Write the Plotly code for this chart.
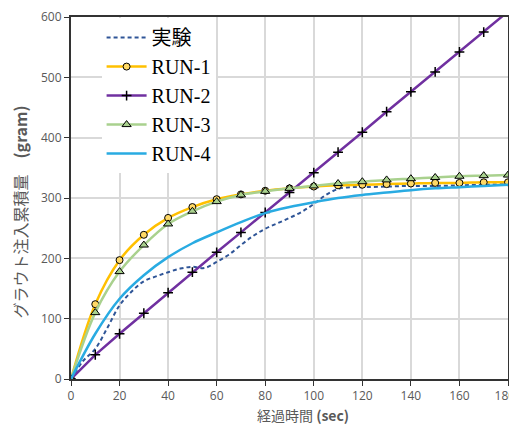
import plotly.graph_objects as go

# ---- data ----
t_exp = [0, 5, 10, 15, 20, 25, 30, 35, 40, 45, 50, 55, 60, 65, 70, 75, 80, 85, 90, 95,
         100, 105, 110, 115, 120, 130, 140, 150, 160, 170, 180]
y_exp = [0, 30, 50, 85, 122, 145, 162, 170, 177, 183, 186, 184, 194, 206, 222, 237, 249,
         258, 267, 277, 290, 305, 315, 318, 318, 319, 320, 320, 321, 322, 323]

t_run = [0, 10, 20, 30, 40, 50, 60, 70, 80, 90, 100, 110, 120, 130, 140, 150, 160, 170, 180]
y_run1 = [0, 124, 197, 239, 267, 285, 298, 306, 312, 316, 319, 321, 322, 323, 324, 325, 325, 326, 326]
y_run2 = [0, 40, 75, 109, 143, 177, 210, 243, 276, 309, 342, 376, 409, 443, 476, 509, 542, 575, 609]
y_run3 = [0, 110, 178, 222, 257, 278, 294, 305, 311, 316, 320, 324, 327, 330, 332, 334, 336, 337, 338]
y_run4 = [0, 75, 133, 172, 202, 225, 243, 260, 275, 285, 293, 300, 305, 309, 313, 316, 318, 320, 322]

x_ticks = [0, 20, 40, 60, 80, 100, 120, 140, 160, 180]
x_tick_text = ["0", "20", "40", "60", "80", "100", "120", "140", "160", "180\u00a0\u00a0"]
y_ticks = [0, 100, 200, 300, 400, 500, 600]

x_title = "経過時間 <b>(sec)</b>"
y_title = "グラウト注入累積量　<b>(gram)</b>"

fig = go.Figure()
fig.add_trace(go.Scatter(x=t_exp, y=y_exp, name="実験", mode="lines",
                         line=dict(color="#2F5597", width=2, dash="4px,3px", shape="spline")))
fig.add_trace(go.Scatter(x=t_run, y=y_run1, name="RUN-1", mode="lines+markers",
                         line=dict(color="#FFC000", width=2.5, shape="spline"),
                         marker=dict(symbol="circle", size=7, color="#FFD966",
                                     line=dict(color="#000000", width=1))))
fig.add_trace(go.Scatter(x=t_run, y=y_run2, name="RUN-2", mode="lines+markers",
                         line=dict(color="#7030A0", width=2.5),
                         marker=dict(symbol="cross-thin-open", size=7, color="#000000",
                                     line=dict(color="#000000", width=1.5))))
fig.add_trace(go.Scatter(x=t_run, y=y_run3, name="RUN-3", mode="lines+markers",
                         line=dict(color="#A9D18E", width=2.5, shape="spline"),
                         marker=dict(symbol="triangle-up", size=8, color="#A9D18E",
                                     line=dict(color="#000000", width=1))))
fig.add_trace(go.Scatter(x=t_run, y=y_run4, name="RUN-4", mode="lines",
                         line=dict(color="#29ABE2", width=2.5, shape="spline")))

tick_font = dict(family="Open Sans", size=12, color="#595959")
title_font = dict(family="Noto Sans CJK JP", size=14, color="#595959")

# the page body has an 8px margin, so the figure is sized/offset to compensate
fig.update_layout(
    width=509, height=416,
    margin=dict(l=63, r=9, t=9, b=45),
    paper_bgcolor="white", plot_bgcolor="white",
    showlegend=True,
    legend=dict(x=0.07, y=0.997, xanchor="left", yanchor="top",
                bgcolor="white", borderwidth=0,
                font=dict(family="Liberation Serif, Noto Sans CJK JP", size=20, color="#000000"),
                itemwidth=40, tracegroupgap=0),
    xaxis=dict(range=[0, 180], tickvals=x_ticks, ticktext=x_tick_text,
               ticks="outside", ticklen=5,
               tickcolor="#333333", showline=True, linecolor="#333333", linewidth=2,
               mirror=True, showgrid=True, gridcolor="#D9D9D9", gridwidth=2,
               tickfont=tick_font, zeroline=False, automargin=False,
               ticklabeloverflow="allow"),
    yaxis=dict(range=[0, 600], tickvals=y_ticks, ticks="outside", ticklen=5,
               tickcolor="#333333", showline=True, linecolor="#333333", linewidth=2,
               mirror=True, showgrid=True, gridcolor="#D9D9D9", gridwidth=2,
               tickfont=tick_font, zeroline=False, automargin=False,
               ticklabeloverflow="allow"),
    annotations=[
        dict(text=x_title, xref="paper", yref="paper", x=0.531, y=-0.0994,
             xanchor="center", yanchor="middle", showarrow=False,
             font=title_font),
        dict(text=y_title, xref="paper", yref="paper", x=-0.1167, y=0.46,
             xanchor="center", yanchor="middle", showarrow=False, textangle=-90,
             font=dict(family="Noto Sans CJK JP", size=16, color="#595959")),
    ],
)

fig.write_html("out.html")
